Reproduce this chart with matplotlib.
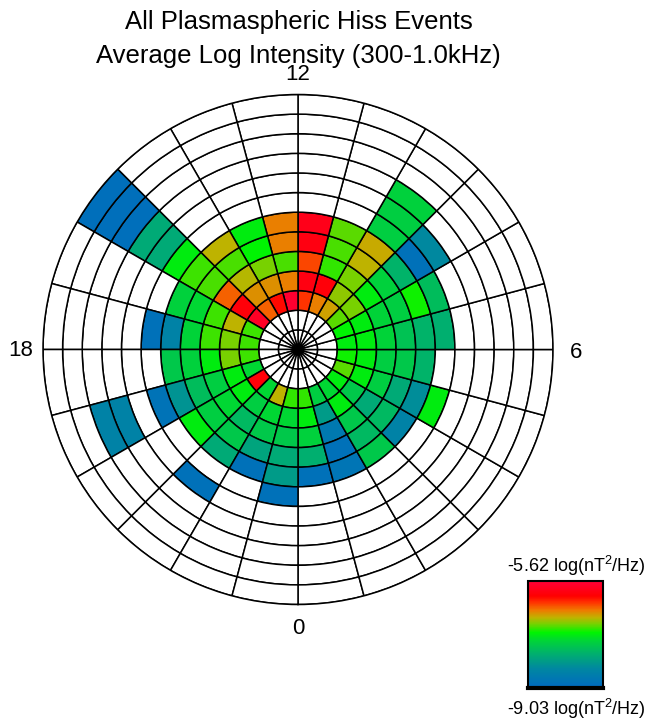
import numpy as np
import matplotlib
matplotlib.use("Agg")
import matplotlib.pyplot as plt
from matplotlib.colors import LinearSegmentedColormap, Normalize
from matplotlib.cm import ScalarMappable

plt.rcParams['font.family'] = ['Liberation Sans', 'DejaVu Sans']
plt.rcParams['mathtext.fontset'] = 'custom'
plt.rcParams['mathtext.rm'] = 'Liberation Sans'
plt.rcParams['mathtext.it'] = 'Liberation Sans:italic'

# one-hour MLT sectors (0..23), unit-wide radial bins (0..12)
n_sectors = 24
n_rings = 13
vmin, vmax = -9.03, -5.62

_ = None
# average log intensity per sector, one list per radial bin (None = no data)
ring_2 = [-7.15, -7.60, -7.50, -7.33, -7.05, -7.22, -7.33, -7.26, -7.05, -6.71, -6.57, -6.30,
          -5.69, -6.13, -6.47, -5.79, -7.12, -7.12, -7.12, -7.50, -6.03, -7.50, -6.78, -7.15]
ring_3 = [-7.33, -8.18, -7.33, -7.67, -7.33, -7.33, -7.33, -7.33, -6.98, -6.92, -6.03, -5.96,
          -6.57, -6.64, -6.64, -6.03, -6.78, -6.98, -6.98, -7.33, -7.33, -7.60, -7.50, -7.50]
ring_4 = [-7.56, -8.69, -7.67, -8.01, -7.60, -7.60, -7.53, -7.53, -7.33, -6.98, -7.15, -6.37,
          -7.09, -6.98, -6.81, -6.47, -7.12, -7.12, -7.33, -7.60, -7.50, -7.84, -7.67, -7.67]
ring_5 = [-7.94, -8.86, -7.84, -7.84, -8.01, -7.67, -7.73, -7.60, -7.56, -6.78, -7.09, -5.96,
          -6.57, -7.26, -7.09, -7.09, -7.50, -7.53, -7.56, -7.80, -7.60, -7.67, -8.08, -8.01]
ring_6 = [-8.86, -8.79, -7.67, -8.52, -8.35, -7.90, -7.90, -7.22, -7.90, -6.75, -7.05, -5.89,
          -6.57, -7.33, -6.78, -7.12, -7.56, -8.52, -7.67, -8.28, -7.33, -8.01, -8.86, -8.18]
ring_7 = [_, _, _, _, -7.33, _, -7.94, -7.80, -8.86, -7.60, _, _,
          _, _, _, -7.33, _, -8.86, _, -8.83, _, _, _, -8.86]
ring_8 = [_, _, _, _, _, _, _, _, -8.40, -7.60, _, _,
          _, _, _, -8.01, _, _, _, _, _, -8.86, _, _]
ring_9 = [_, _, _, _, _, _, _, _, _, -7.56, _, _,
          _, _, _, -8.01, _, _, _, -8.52, _, _, _, _]
ring_10 = [_] * 15 + [-8.90, _, _, _, -8.52, _, _, _, _]
ring_11 = [_] * 15 + [-8.90] + [_] * 8
ring_12 = [_] * 15 + [-8.90] + [_] * 8

rings = {2: ring_2, 3: ring_3, 4: ring_4, 5: ring_5, 6: ring_6, 7: ring_7,
         8: ring_8, 9: ring_9, 10: ring_10, 11: ring_11, 12: ring_12}

stops = [(0.00, (0.00, 0.41, 0.76)),
         (0.18, (0.00, 0.53, 0.63)),
         (0.32, (0.00, 0.69, 0.43)),
         (0.44, (0.00, 0.83, 0.22)),
         (0.52, (0.00, 0.96, 0.00)),
         (0.60, (0.47, 0.82, 0.00)),
         (0.66, (0.75, 0.70, 0.00)),
         (0.73, (0.94, 0.47, 0.00)),
         (0.80, (1.00, 0.20, 0.00)),
         (0.86, (1.00, 0.00, 0.00)),
         (1.00, (1.00, 0.00, 0.22))]
cmap = LinearSegmentedColormap.from_list('hiss', stops)
norm = Normalize(vmin, vmax)

W, H = 646, 721


def fx(px):
    return px / W


def fy(py):
    return 1 - py / H


fig = plt.figure(figsize=(W / 100, H / 100), dpi=100)
ax = fig.add_axes([fx(43), fy(604.5), 510 / W, 510 / H], projection='polar')
ax.set_theta_zero_location('S')
ax.set_theta_direction(1)

theta, bottom, colors = [], [], []
for L in range(n_rings):
    vals = rings.get(L, [None] * n_sectors)
    for s in range(n_sectors):
        v = vals[s]
        theta.append(np.radians((s + 0.5) * 15))
        bottom.append(L)
        colors.append('white' if v is None else cmap(norm(v)))

ax.bar(theta, 1, width=np.radians(15), bottom=bottom, color=colors,
       edgecolor='black', linewidth=1.1, align='center')
ax.plot(0, 0, 'D', color='black', ms=5)
ax.set_ylim(0, n_rings)
ax.set_xticks([])
ax.set_yticks([])
ax.grid(False)
ax.spines['polar'].set_linewidth(1.1)

# MLT labels
fig.text(fx(298), fy(75), '12', ha='center', va='center', fontsize=16)
fig.text(fx(298), fy(628), '0', ha='center', va='center', fontsize=16)
fig.text(fx(21), fy(351), '18', ha='center', va='center', fontsize=16)
fig.text(fx(576), fy(352), '6', ha='center', va='center', fontsize=16)

fig.text(fx(298.5), fy(29), 'All Plasmaspheric Hiss Events', ha='center', va='baseline', fontsize=18.5)
fig.text(fx(298.5), fy(63), 'Average Log Intensity (300-1.0kHz)', ha='center', va='baseline', fontsize=18.5)

# color scale box
cax = fig.add_axes([fx(528), fy(688), 75 / W, 107 / H])
cb = fig.colorbar(ScalarMappable(norm=norm, cmap=cmap), cax=cax)
cb.set_ticks([])
cb.outline.set_linewidth(1.5)
cax.plot([0, 1], [0, 0], transform=cax.transAxes, color='black', lw=3, clip_on=False)

fig.text(fx(576), fy(566), '-5.62 log(nT$^2$/Hz)', ha='center', va='center', fontsize=13)
fig.text(fx(576), fy(709), '-9.03 log(nT$^2$/Hz)', ha='center', va='center', fontsize=13)

fig.savefig('out.png', dpi=100)
